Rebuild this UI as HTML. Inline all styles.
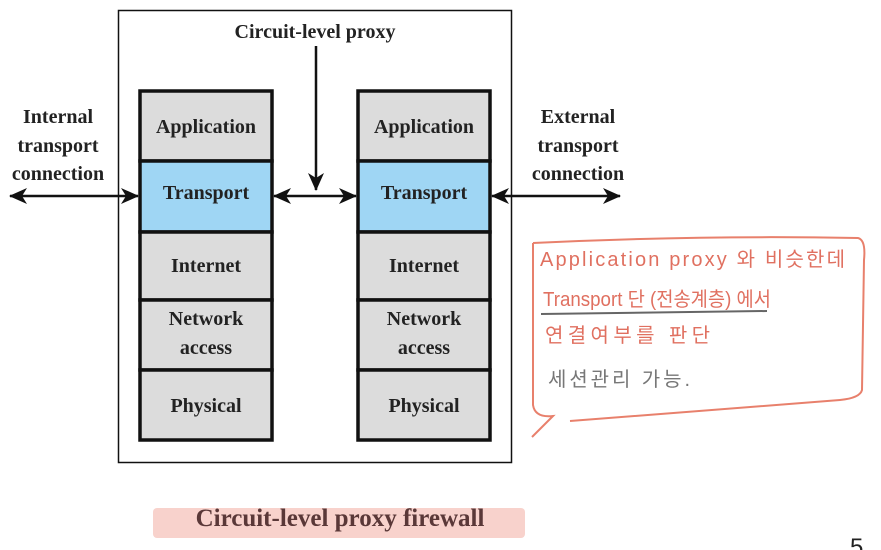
<!DOCTYPE html>
<html><head><meta charset="utf-8"><style>
body{margin:0;background:#fff;width:881px;height:550px;overflow:hidden}
svg{display:block}
.s{font-family:"Liberation Serif",serif;font-weight:bold;font-size:20px;fill:#222;text-anchor:middle}
.h{font-family:"Liberation Sans","Noto Sans CJK KR",sans-serif;font-size:20px;fill:#e07060}
</style></head><body>
<svg width="881" height="550" viewBox="0 0 881 550">
<defs>
<marker id="b" markerWidth="18" markerHeight="16" refX="17" refY="8" orient="auto-start-reverse" markerUnits="userSpaceOnUse"><path d="M0,0 L18,8 L0,16 L5,8z" fill="#111"/></marker></defs>
<rect x="118.5" y="10.5" width="393" height="452" fill="#fff" stroke="#111" stroke-width="1.5"/>
<g stroke="#111" stroke-width="3.5">
<rect x="140" y="91" width="132" height="70" fill="#dcdcdc"/>
<rect x="140" y="161" width="132" height="71" fill="#9fd6f4"/>
<rect x="140" y="232" width="132" height="68" fill="#dcdcdc"/>
<rect x="140" y="300" width="132" height="70" fill="#dcdcdc"/>
<rect x="140" y="370" width="132" height="70" fill="#dcdcdc"/>
<rect x="358" y="91" width="132" height="70" fill="#dcdcdc"/>
<rect x="358" y="161" width="132" height="71" fill="#9fd6f4"/>
<rect x="358" y="232" width="132" height="68" fill="#dcdcdc"/>
<rect x="358" y="300" width="132" height="70" fill="#dcdcdc"/>
<rect x="358" y="370" width="132" height="70" fill="#dcdcdc"/>
</g>
<g stroke="#111" stroke-width="2.5" fill="none">
<line x1="10" y1="196" x2="138" y2="196" marker-start="url(#b)" marker-end="url(#b)"/>
<line x1="274" y1="196" x2="356" y2="196" marker-start="url(#b)" marker-end="url(#b)"/>
<line x1="492" y1="196" x2="620" y2="196" marker-start="url(#b)" marker-end="url(#b)"/>
<line x1="316" y1="46" x2="316" y2="190" marker-end="url(#b)"/>
</g>
<text class="s" x="315" y="38">Circuit-level proxy</text>
<text class="s" x="58" y="123">Internal</text>
<text class="s" x="58" y="152">transport</text>
<text class="s" x="58" y="180">connection</text>
<text class="s" x="578" y="123">External</text>
<text class="s" x="578" y="152">transport</text>
<text class="s" x="578" y="180">connection</text>
<text class="s" x="206" y="133">Application</text>
<text class="s" x="206" y="199" fill="#102030">Transport</text>
<text class="s" x="206" y="272">Internet</text>
<text class="s" x="206" y="325">Network</text>
<text class="s" x="206" y="354">access</text>
<text class="s" x="206" y="412">Physical</text>
<text class="s" x="424" y="133">Application</text>
<text class="s" x="424" y="199">Transport</text>
<text class="s" x="424" y="272">Internet</text>
<text class="s" x="424" y="325">Network</text>
<text class="s" x="424" y="354">access</text>
<text class="s" x="424" y="412">Physical</text>
<path d="M533,243 Q700,235 858,238 Q866,240 864,260 L862,390 Q860,398 840,400 L570,421 M533,243 L533,405 Q535,418 553,416 L532,437" fill="none" stroke="#e8806c" stroke-width="2"/>
<text class="h" x="540" y="266" textLength="305" lengthAdjust="spacing">Application proxy 와 비슷한데</text>
<text class="h" x="543" y="306" textLength="228" lengthAdjust="spacingAndGlyphs">Transport 단 (전송계층) 에서</text>
<line x1="541" y1="314" x2="767" y2="311" stroke="#666" stroke-width="2"/>
<text class="h" x="545" y="342" textLength="165" lengthAdjust="spacing">연결여부를 판단</text>
<text class="h" x="548" y="386" style="fill:#777" textLength="142" lengthAdjust="spacing">세션관리 가능.</text>
<rect x="153" y="508" width="372" height="30" rx="4" fill="#f8d2cc"/>
<text x="340" y="526" font-family="Liberation Serif,serif" font-weight="bold" font-size="25" fill="#5a3838" text-anchor="middle">Circuit-level proxy firewall</text>
<text x="850" y="555" font-family="Liberation Sans,sans-serif" font-size="24" fill="#222">5</text>
</svg>
</body></html>
